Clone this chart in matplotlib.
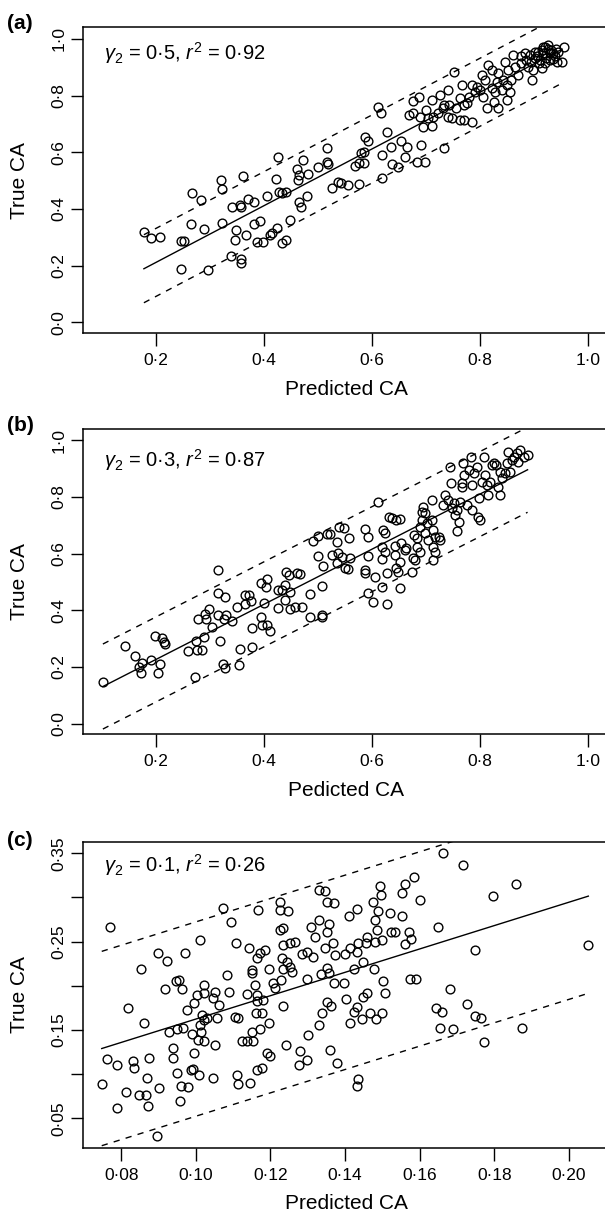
import numpy as np
import matplotlib
matplotlib.use('Agg')
import matplotlib.pyplot as plt

plt.rcParams['font.family'] = ['Liberation Sans', 'DejaVu Sans']
plt.rcParams['mathtext.fontset'] = 'custom'
plt.rcParams['mathtext.rm'] = 'Liberation Sans'
plt.rcParams['mathtext.it'] = 'Liberation Sans:italic'

########################
#   DATA (read off)    #
########################

# panel (a): gamma2 = 0.5
pred_a = [0.177, 0.190, 0.206, 0.245, 0.252, 0.245, 0.266, 0.282, 0.264, 0.289,
          0.295, 0.319, 0.322, 0.322, 0.360, 0.341, 0.357, 0.355, 0.369, 0.381,
          0.347, 0.346, 0.366, 0.338, 0.357, 0.357, 0.381, 0.393, 0.386, 0.398,
          0.410, 0.414, 0.424, 0.433, 0.441, 0.406, 0.422, 0.426, 0.427, 0.441,
          0.432, 0.447, 0.464, 0.468, 0.480, 0.460, 0.471, 0.462, 0.464, 0.482,
          0.500, 0.516, 0.516, 0.519, 0.525, 0.537,
          0.543, 0.556, 0.576, 0.569, 0.575, 0.584, 0.579, 0.584, 0.586, 0.593,
          0.610, 0.617, 0.618, 0.627, 0.619, 0.634, 0.637, 0.648, 0.654, 0.665,
          0.661, 0.683, 0.698, 0.691, 0.733, 0.669, 0.676, 0.686, 0.676, 0.689,
          0.700, 0.711, 0.712, 0.694, 0.711, 0.726, 0.741, 0.722, 0.731, 0.743,
          0.741, 0.748, 0.751, 0.766, 0.763, 0.770, 0.763, 0.770, 0.785, 0.779,
          0.785, 0.794, 0.803, 0.809, 0.815, 0.806, 0.812, 0.825, 0.834, 0.828,
          0.840, 0.850, 0.856, 0.846, 0.852, 0.834, 0.822, 0.861, 0.858, 0.870,
          0.876, 0.883, 0.896, 0.889, 0.901, 0.908, 0.914, 0.920, 0.926, 0.932,
          0.938, 0.942, 0.951, 0.955, 0.923, 0.917, 0.929, 0.911, 0.898, 0.886,
          0.876, 0.864, 0.843, 0.831, 0.849, 0.822, 0.800, 0.790, 0.775, 0.756,
          0.734, 0.704, 0.917, 0.935, 0.944, 0.901, 0.892, 0.920, 0.925, 0.915,
          0.930, 0.905, 0.895, 0.935, 0.940, 0.910]
true_a = [0.319, 0.299, 0.301, 0.287, 0.288, 0.189, 0.458, 0.432, 0.348, 0.328,
          0.184, 0.501, 0.471, 0.351, 0.518, 0.408, 0.406, 0.414, 0.434, 0.426,
          0.325, 0.291, 0.308, 0.235, 0.222, 0.211, 0.347, 0.356, 0.282, 0.285,
          0.308, 0.316, 0.332, 0.281, 0.292, 0.444, 0.505, 0.585, 0.461, 0.459,
          0.458, 0.360, 0.426, 0.408, 0.447, 0.540, 0.573, 0.502, 0.520, 0.522,
          0.549, 0.614, 0.565, 0.559, 0.473, 0.496,
          0.493, 0.485, 0.487, 0.552, 0.561, 0.561, 0.599, 0.602, 0.655, 0.641,
          0.759, 0.740, 0.591, 0.673, 0.508, 0.620, 0.559, 0.547, 0.641, 0.620,
          0.585, 0.567, 0.567, 0.626, 0.614, 0.732, 0.782, 0.794, 0.738, 0.724,
          0.749, 0.785, 0.726, 0.688, 0.691, 0.802, 0.820, 0.738, 0.755, 0.767,
          0.726, 0.720, 0.885, 0.838, 0.791, 0.767, 0.714, 0.714, 0.708, 0.796,
          0.838, 0.832, 0.873, 0.855, 0.908, 0.796, 0.755, 0.779, 0.755, 0.814,
          0.820, 0.785, 0.814, 0.920, 0.891, 0.879, 0.891, 0.944, 0.855, 0.873,
          0.914, 0.949, 0.855, 0.902, 0.932, 0.955, 0.896, 0.973, 0.979, 0.961,
          0.938, 0.920, 0.920, 0.973, 0.932, 0.949, 0.926, 0.926, 0.891, 0.926,
          0.938, 0.902, 0.855, 0.849, 0.838, 0.826, 0.820, 0.814, 0.773, 0.755,
          0.767, 0.720, 0.973, 0.949, 0.955, 0.955, 0.944, 0.914, 0.965, 0.960,
          0.950, 0.940, 0.920, 0.930, 0.965, 0.915]

# panel (b): gamma2 = 0.3
pred_b = [0.101, 0.142, 0.161, 0.168, 0.172, 0.173, 0.190, 0.198, 0.211, 0.214,
          0.216, 0.207, 0.204, 0.259, 0.274, 0.275, 0.284, 0.289, 0.277, 0.290,
          0.297, 0.293, 0.304, 0.315, 0.315, 0.315, 0.327, 0.318, 0.326, 0.330,
          0.341, 0.324, 0.327, 0.272, 0.354, 0.356, 0.378, 0.377, 0.349, 0.365,
          0.371, 0.376, 0.365, 0.394, 0.396, 0.405, 0.411, 0.400, 0.394, 0.403,
          0.406, 0.426, 0.432, 0.441, 0.445, 0.439, 0.448, 0.439, 0.426, 0.447,
          0.460, 0.466, 0.457, 0.470, 0.484, 0.485, 0.507, 0.507, 0.507, 0.500,
          0.508, 0.491, 0.500, 0.516, 0.521, 0.525, 0.534, 0.535, 0.538, 0.537,
          0.544, 0.548, 0.557, 0.549, 0.555, 0.559, 0.586, 0.593, 0.593, 0.586,
          0.587, 0.606, 0.593, 0.602, 0.627, 0.618, 0.627, 0.611, 0.621, 0.624,
          0.618, 0.624, 0.619, 0.632, 0.636, 0.645, 0.651, 0.642, 0.643, 0.644,
          0.648, 0.652, 0.654, 0.660, 0.651, 0.663, 0.676, 0.674, 0.679, 0.678,
          0.683, 0.689, 0.692, 0.695, 0.698, 0.701, 0.704, 0.710, 0.710, 0.713,
          0.717, 0.713, 0.713, 0.717, 0.723, 0.726, 0.732, 0.735, 0.741, 0.744,
          0.746, 0.748, 0.751, 0.754, 0.757, 0.760, 0.758, 0.763, 0.766, 0.767,
          0.769, 0.771, 0.776, 0.779, 0.784, 0.785, 0.788, 0.794, 0.797, 0.800,
          0.798, 0.803, 0.808, 0.809, 0.812, 0.815, 0.818, 0.822, 0.825, 0.829,
          0.834, 0.837, 0.837, 0.840, 0.846, 0.849, 0.851, 0.856, 0.859, 0.862,
          0.868, 0.874, 0.870, 0.881, 0.888, 0.785, 0.692, 0.698, 0.683, 0.689]
true_b = [0.148, 0.275, 0.239, 0.199, 0.178, 0.213, 0.225, 0.309, 0.301, 0.289,
          0.281, 0.209, 0.180, 0.258, 0.292, 0.260, 0.261, 0.305, 0.371, 0.386,
          0.405, 0.368, 0.342, 0.385, 0.542, 0.461, 0.448, 0.292, 0.368, 0.384,
          0.362, 0.209, 0.195, 0.164, 0.207, 0.262, 0.272, 0.336, 0.413, 0.454,
          0.454, 0.432, 0.421, 0.378, 0.348, 0.347, 0.328, 0.427, 0.495, 0.484,
          0.511, 0.472, 0.473, 0.536, 0.524, 0.490, 0.466, 0.436, 0.409, 0.405,
          0.531, 0.528, 0.413, 0.411, 0.459, 0.378, 0.384, 0.375, 0.487, 0.592,
          0.558, 0.646, 0.664, 0.669, 0.669, 0.595, 0.642, 0.568, 0.695, 0.601,
          0.589, 0.689, 0.654, 0.548, 0.545, 0.584, 0.686, 0.658, 0.592, 0.542,
          0.531, 0.519, 0.462, 0.431, 0.422, 0.481, 0.531, 0.781, 0.684, 0.672,
          0.625, 0.607, 0.580, 0.731, 0.725, 0.719, 0.721, 0.627, 0.595, 0.548,
          0.536, 0.478, 0.636, 0.613, 0.572, 0.619, 0.584, 0.536, 0.579, 0.666,
          0.654, 0.695, 0.719, 0.766, 0.672, 0.707, 0.648, 0.789, 0.719, 0.684,
          0.660, 0.625, 0.578, 0.607, 0.660, 0.648, 0.772, 0.807, 0.789, 0.907,
          0.848, 0.760, 0.778, 0.736, 0.754, 0.713, 0.681, 0.784, 0.836, 0.848,
          0.919, 0.878, 0.772, 0.895, 0.942, 0.754, 0.884, 0.907, 0.731, 0.719,
          0.795, 0.854, 0.942, 0.878, 0.842, 0.807, 0.854, 0.913, 0.919, 0.913,
          0.836, 0.807, 0.889, 0.866, 0.884, 0.919, 0.960, 0.889, 0.931, 0.942,
          0.954, 0.966, 0.925, 0.942, 0.948, 0.842, 0.748, 0.742, 0.625, 0.607]

# panel (c): gamma2 = 0.1
pred_c = [0.0769, 0.0748, 0.0762, 0.0790, 0.0789, 0.0813, 0.0818, 0.0831, 0.0835, 0.0853,
          0.0862, 0.0847, 0.0867, 0.0869, 0.0871, 0.0875, 0.0896, 0.0902, 0.0898, 0.0922,
          0.0918, 0.0938, 0.0940, 0.0929, 0.0949, 0.0965, 0.0947, 0.0954, 0.0963, 0.0972,
          0.0976, 0.0949, 0.0960, 0.0958, 0.0980, 0.0987, 0.0993, 0.1010, 0.0994, 0.0989,
          0.0994, 0.1003, 0.1021, 0.1021, 0.1012, 0.1016, 0.1021, 0.1012, 0.1013, 0.1007,
          0.1023, 0.1029, 0.1047, 0.1052, 0.1061, 0.1056, 0.1052, 0.1046, 0.1083, 0.1088,
          0.1095, 0.1072, 0.1107, 0.1105, 0.1114, 0.1110, 0.1114, 0.1123, 0.1137, 0.1144,
          0.1154, 0.1142, 0.1150, 0.1150, 0.1137, 0.1163, 0.1171, 0.1186, 0.1163, 0.1159,
          0.1163, 0.1181, 0.1162, 0.1177, 0.1150, 0.1172, 0.1195, 0.1197, 0.1206, 0.1213,
          0.1229, 0.1233, 0.1230, 0.1244, 0.1253, 0.1257, 0.1226, 0.1235, 0.1233, 0.1253,
          0.1266, 0.1226, 0.1226, 0.1248, 0.1168, 0.1190, 0.1199, 0.1163, 0.1177, 0.1242,
          0.1235, 0.1278, 0.1276, 0.1297, 0.1302, 0.1297, 0.1284, 0.1297, 0.1315, 0.1310,
          0.1319, 0.1330, 0.1335, 0.1330, 0.1339, 0.1351, 0.1362, 0.1360, 0.1351, 0.1346,
          0.1358, 0.1330, 0.1346, 0.1351, 0.1371, 0.1367, 0.1373, 0.1371, 0.1378, 0.1351,
          0.1357, 0.1396, 0.1663, 0.1715, 0.1857, 0.1796, 0.1585, 0.1561, 0.1552, 0.1494,
          0.1496, 0.1476, 0.1601, 0.1431, 0.1411, 0.1488, 0.1521, 0.1554, 0.1481, 0.1485,
          0.1523, 0.1534, 0.1571, 0.1577, 0.1561, 0.1499, 0.1481, 0.1459, 0.1456, 0.1436,
          0.1650, 0.1413, 0.1431, 0.1401, 0.1449, 0.1478, 0.1502, 0.1507, 0.1458, 0.1449,
          0.1423, 0.1402, 0.1423, 0.1431, 0.1468, 0.1499, 0.1483, 0.1445, 0.1413, 0.1436,
          0.1431, 0.1573, 0.1591, 0.1748, 0.1682, 0.1726, 0.1643, 0.1661, 0.1748, 0.1764,
          0.1655, 0.1690, 0.1773, 0.1874, 0.2050]
true_c = [0.2670, 0.0885, 0.1168, 0.1100, 0.0613, 0.0802, 0.1753, 0.1149, 0.1074, 0.2187,
          0.1575, 0.0760, 0.0760, 0.0953, 0.0643, 0.1187, 0.0300, 0.0847, 0.2375, 0.2281,
          0.1960, 0.1180, 0.1292, 0.1481, 0.1511, 0.1519, 0.2058, 0.2066, 0.1960, 0.2375,
          0.1726, 0.1017, 0.0866, 0.0696, 0.0851, 0.1047, 0.1055, 0.0991, 0.1236, 0.1455,
          0.1810, 0.1896, 0.2009, 0.1915, 0.2519, 0.1670, 0.1613, 0.1557, 0.1481, 0.1387,
          0.1379, 0.1632, 0.1858, 0.1934, 0.1783, 0.1632, 0.1330, 0.0960, 0.2123, 0.1934,
          0.2719, 0.2877, 0.2489, 0.1651, 0.1632, 0.0991, 0.0889, 0.1379, 0.1379, 0.0896,
          0.1379, 0.2425, 0.2179, 0.2142, 0.1908, 0.2311, 0.2375, 0.2406, 0.1896, 0.2009,
          0.1828, 0.1840, 0.1689, 0.1689, 0.1481, 0.1508, 0.1583, 0.2187, 0.2028, 0.1972,
          0.2066, 0.2187, 0.2311, 0.2274, 0.2217, 0.2160, 0.2632, 0.2651, 0.2462, 0.2481,
          0.2500, 0.2953, 0.2858, 0.2847, 0.2858, 0.1243, 0.1206, 0.1047, 0.1066, 0.1330,
          0.1772, 0.1266, 0.1098, 0.1160, 0.1443, 0.2074, 0.2360, 0.2387, 0.2323, 0.2670,
          0.2549, 0.2745, 0.2134, 0.1557, 0.1696, 0.1821, 0.1772, 0.1274, 0.2198, 0.2425,
          0.2700, 0.3085, 0.3074, 0.2953, 0.2934, 0.2481, 0.2349, 0.2028, 0.1123, 0.2613,
          0.2145, 0.2028, 0.3508, 0.3372, 0.3149, 0.3017, 0.3236, 0.3153, 0.3055, 0.3130,
          0.3028, 0.2953, 0.2972, 0.2866, 0.2791, 0.2851, 0.2821, 0.2791, 0.2745, 0.2632,
          0.2613, 0.2613, 0.2613, 0.2526, 0.2474, 0.2519, 0.2500, 0.2549, 0.2489, 0.2481,
          0.2670, 0.2425, 0.2387, 0.2360, 0.2274, 0.2187, 0.2058, 0.1915, 0.1915, 0.1870,
          0.2187, 0.1851, 0.1708, 0.1764, 0.1696, 0.1689, 0.1625, 0.1621, 0.1583, 0.0942,
          0.0866, 0.2074, 0.2074, 0.2406, 0.1960, 0.1794, 0.1745, 0.1708, 0.1658, 0.1636,
          0.1526, 0.1508, 0.1360, 0.1521, 0.2462]

# fitted line (intercept, slope), x extent and half width of the dashed band
fit_a = (0.012, 1.000, 0.177, 0.952, 0.12)
fit_b = (0.033, 0.972, 0.101, 0.888, 0.15)
fit_c = (0.030, 1.323, 0.0748, 0.2052, 0.11)

panel_tags = ['(a)', '(b)', '(c)']
stat_texts = ['$\\gamma_2$ = 0·5, $r^2$ = 0·92',
              '$\\gamma_2$ = 0·3, $r^2$ = 0·87',
              '$\\gamma_2$ = 0·1, $r^2$ = 0·26']
x_titles = ['Predicted CA', 'Pedicted CA', 'Predicted CA']
y_title = 'True CA'

xticks_ab = [0.2, 0.4, 0.6, 0.8, 1.0]
xlabels_ab = ['0·2', '0·4', '0·6', '0·8', '1·0']
yticks_ab = [0.0, 0.2, 0.4, 0.6, 0.8, 1.0]
ylabels_ab = ['0·0', '0·2', '0·4', '0·6', '0·8', '1·0']
xticks_c = [0.08, 0.10, 0.12, 0.14, 0.16, 0.18, 0.20]
xlabels_c = ['0·08', '0·10', '0·12', '0·14', '0·16', '0·18', '0·20']
yticks_c = [0.05, 0.10, 0.15, 0.20, 0.25, 0.30, 0.35]
ylabels_c = ['0·05', '', '0·15', '', '0·25', '', '0·35']


W, H = 605, 1215


def px_rect(left, top, right, bottom):
    return [left / W, 1 - bottom / H, (right - left) / W, (bottom - top) / H]


def draw_panel(ax, pred, true, fit, xlim, ylim, xt, xl, yt, yl, stat, stat_y, xtitle):
    a, b, x0, x1, band = fit
    xs = np.array([x0, x1])
    ax.plot(pred, true, 'o', ms=6.3, mfc='none', mec='black', mew=1.0, zorder=3)
    ax.plot(xs, a + b * xs, '-', color='black', lw=1.0)
    ax.plot(xs, a + b * xs + band, color='black', lw=1.0, ls=(0, (4.5, 4.5)))
    ax.plot(xs, a + b * xs - band, color='black', lw=1.0, ls=(0, (4.5, 4.5)))

    ax.set_xlim(xlim)
    ax.set_ylim(ylim)
    ax.set_xticks(xt)
    ax.set_xticklabels(xl)
    ax.set_yticks(yt)
    ax.set_yticklabels(yl)
    ax.tick_params(direction='out', length=9, width=1.0, labelsize=12.5, color='black')
    ax.tick_params(axis='x', pad=5.5)
    ax.tick_params(axis='y', pad=2.5, labelrotation=90)
    for lab in ax.get_yticklabels():
        lab.set_va('center')
    for sp in ax.spines.values():
        sp.set_linewidth(1.1)

    ax.set_xlabel(xtitle, fontsize=15)
    ax.xaxis.label.set_va('center')
    ax.xaxis.set_label_coords(0.5, -56 / 306)
    ax.set_ylabel(y_title, fontsize=15)
    ax.yaxis.label.set_va('center')
    ax.yaxis.set_label_coords((19.5 - 82.7) / 526.9, 0.5)

    ax.text(0.041, stat_y, stat, transform=ax.transAxes, fontsize=14.5,
            ha='left', va='baseline')


def main():
    fig = plt.figure(figsize=(W / 100, H / 100), dpi=100)

    ax_a = fig.add_axes(px_rect(82.7, 27.3, 609.6, 333.3))
    ax_b = fig.add_axes(px_rect(82.7, 429.0, 609.6, 734.3))
    ax_c = fig.add_axes(px_rect(82.7, 841.7, 609.6, 1147.7))

    draw_panel(ax_a, pred_a, true_a, fit_a, (0.0636, 1.040), (-0.0388, 1.041),
               xticks_ab, xlabels_ab, yticks_ab, ylabels_ab, stat_texts[0], 0.893, x_titles[0])
    draw_panel(ax_b, pred_b, true_b, fit_b, (0.0636, 1.040), (-0.0374, 1.040),
               xticks_ab, xlabels_ab, yticks_ab, ylabels_ab, stat_texts[1], 0.8765, x_titles[1])
    draw_panel(ax_c, pred_c, true_c, fit_c, (0.0697, 0.2109), (0.0167, 0.3631),
               xticks_c, xlabels_c, yticks_c, ylabels_c, stat_texts[2], 0.902, x_titles[2])

    # panel tags
    for tag, base_y in zip(panel_tags, [29.0, 430.7, 846.0]):
        fig.text(7 / W, 1 - base_y / H, tag, fontsize=15, fontweight='bold',
                 ha='left', va='baseline')

    fig.savefig('out.png', dpi=100)


if __name__ == "__main__":
    main()
